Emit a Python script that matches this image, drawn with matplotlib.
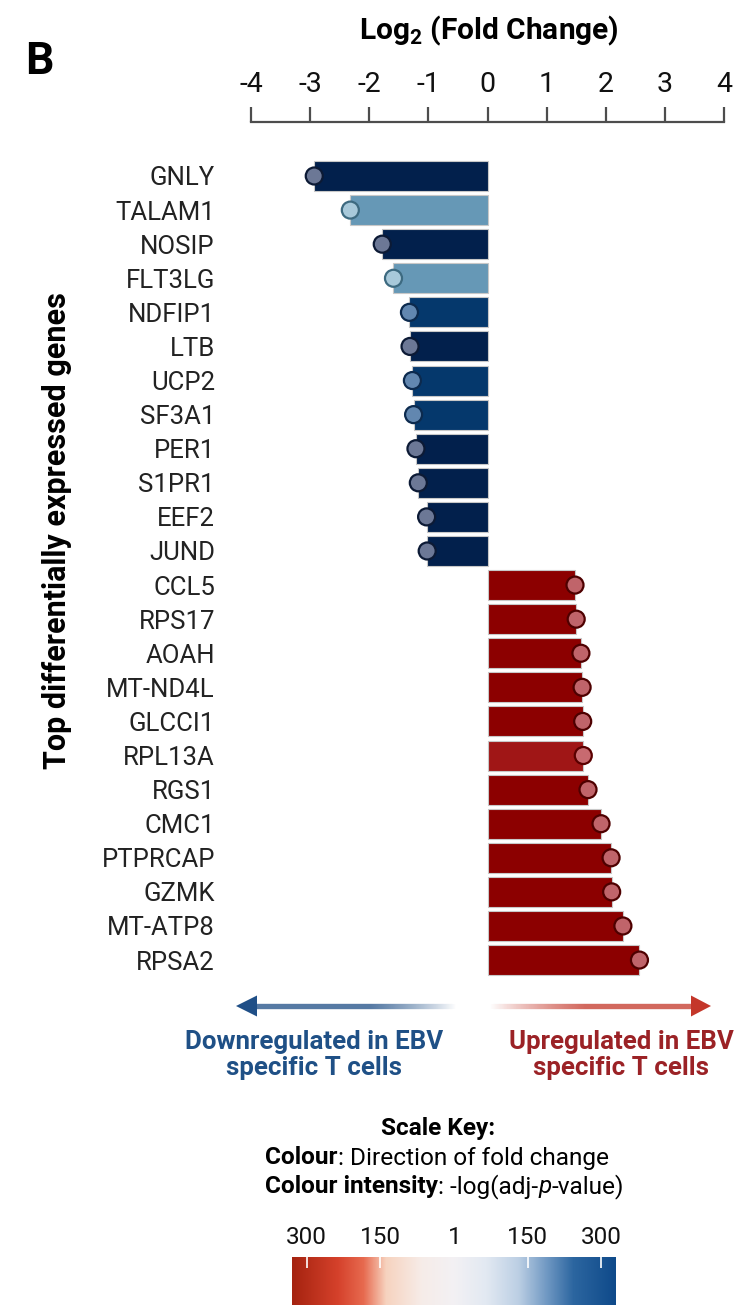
import matplotlib
matplotlib.use('Agg')
import matplotlib.pyplot as plt
import numpy as np
from matplotlib.collections import LineCollection
from matplotlib.colors import LinearSegmentedColormap, to_rgba
from matplotlib.patches import Polygon

plt.rcParams['font.family'] = ['Roboto', 'DejaVu Sans']
plt.rcParams['mathtext.fontset'] = 'custom'
plt.rcParams['mathtext.rm'] = 'Roboto:bold'
plt.rcParams['mathtext.bf'] = 'Roboto:bold'
plt.rcParams['axes.unicode_minus'] = False

# ---------------- data ----------------
genes = ['GNLY', 'TALAM1', 'NOSIP', 'FLT3LG', 'NDFIP1', 'LTB', 'UCP2', 'SF3A1',
         'PER1', 'S1PR1', 'EEF2', 'JUND',
         'CCL5', 'RPS17', 'AOAH', 'MT-ND4L', 'GLCCI1', 'RPL13A', 'RGS1', 'CMC1',
         'PTPRCAP', 'GZMK', 'MT-ATP8', 'RPSA2']
log2fc = [-2.93, -2.32, -1.78, -1.59, -1.32, -1.31, -1.27, -1.25,
          -1.21, -1.17, -1.03, -1.02,
          1.48, 1.50, 1.58, 1.60, 1.61, 1.62, 1.70, 1.92,
          2.09, 2.10, 2.29, 2.57]
# significance intensity group (-log adj p)
sig_level = ['high', 'low', 'high', 'low', 'mid', 'high', 'mid', 'mid',
             'high', 'high', 'high', 'high',
             'high', 'high', 'high', 'high', 'high', 'mid', 'high', 'high',
             'high', 'high', 'high', 'high']
x_ticks = [-4, -3, -2, -1, 0, 1, 2, 3, 4]
cbar_values = [-300, -150, 1, 150, 300]
cbar_labels = ['300', '150', '1', '150', '300']

# ---------------- styles ----------------
bar_col = {('down', 'high'): '#02204c', ('down', 'mid'): '#05386c', ('down', 'low'): '#6698b6',
           ('up', 'high'): '#8c0000', ('up', 'mid'): '#a01616', ('up', 'low'): '#c05050'}
dot_col = {('down', 'high'): '#6c7896', ('down', 'mid'): '#6287b0', ('down', 'low'): '#a8c9da',
           ('up', 'high'): '#c0646a', ('up', 'mid'): '#c86a70', ('up', 'low'): '#d89090'}
dot_edge = {('down', 'high'): '#0c1a35', ('down', 'mid'): '#0c2a4e', ('down', 'low'): '#3d6a80',
            ('up', 'high'): '#4e0000', ('up', 'mid'): '#5a0000', ('up', 'low'): '#6a1010'}

W, H = 743, 1311
fig = plt.figure(figsize=(W / 100, H / 100), dpi=100)

ov = fig.add_axes([0, 0, 1, 1])
ov.set_xlim(0, W)
ov.set_ylim(H, 0)
ov.axis('off')


def fig_box(l, t, r, b):
    return [l / W, 1 - b / H, (r - l) / W, (b - t) / H]


# ---------------- main bar chart ----------------
ax = fig.add_axes(fig_box(251, 122, 724, 980))
ax.patch.set_visible(False)
ypos = np.arange(len(genes))
keys = [('down' if v < 0 else 'up', s) for v, s in zip(log2fc, sig_level)]
ax.barh(ypos, log2fc, height=0.88, color=[bar_col[k] for k in keys],
        edgecolor='#c8c8c8', linewidth=0.8, zorder=2)
ax.scatter(log2fc, ypos, s=150, c=[dot_col[k] for k in keys],
           edgecolors=[dot_edge[k] for k in keys], linewidths=1.6, zorder=3, clip_on=False)
ax.set_xlim(-4, 4)
ax.set_ylim(23.585, -1.584)
ax.xaxis.set_ticks_position('top')
ax.set_xticks(x_ticks)
ax.set_xticklabels([str(t) for t in x_ticks])
ax.tick_params(axis='x', direction='out', length=11, width=1.6, color='#4d4d4d',
               pad=6, labelsize=20.5, labelcolor='#111111')
ax.set_yticks(ypos)
ax.set_yticklabels(genes)
ax.tick_params(axis='y', length=0, pad=26, labelsize=18.5, labelcolor='#222222')
for s in ['left', 'right', 'bottom']:
    ax.spines[s].set_visible(False)
ax.spines['top'].set_linewidth(1.6)
ax.spines['top'].set_color('#4d4d4d')

# ---------------- texts ----------------
ov.text(39, 62, 'B', fontsize=32, fontweight='bold', ha='center', va='center')
ov.text(489, 31, r'Log$_2$ (Fold Change)', fontsize=21.5, fontweight='bold',
        ha='center', va='center')
ov.text(57, 531, 'Top differentially expressed genes', fontsize=22, fontweight='bold',
        rotation=90, ha='center', va='center')

# arrows
blue = '#1f4f87'
red = '#c4372a'


def grad_line(x0, x1, y, color, a0, a1, full_from, full_to):
    xs = np.linspace(x0, x1, 300)
    segs = [[(xs[i], y), (xs[i + 1], y)] for i in range(len(xs) - 1)]
    cols = []
    for i in range(len(xs) - 1):
        xm = 0.5 * (xs[i] + xs[i + 1])
        t = np.clip((xm - full_from) / (full_to - full_from), 0, 1)
        a = a0 + (a1 - a0) * t
        cols.append(to_rgba(color, a))
    ov.add_collection(LineCollection(segs, colors=cols, linewidths=3.8, capstyle='butt'))


grad_line(254, 455, 1006, blue, 1.0, 0.0, 370, 455)
ov.add_patch(Polygon([(236, 1006), (257, 995.5), (257, 1016.5)], closed=True, color=blue, lw=0))
grad_line(490, 694, 1006, red, 0.0, 1.0, 490, 585)
ov.add_patch(Polygon([(711, 1006), (691, 995.5), (691, 1016.5)], closed=True, color=red, lw=0))

ov.text(314, 1055, 'Downregulated in EBV\nspecific T cells', fontsize=18.6, fontweight='bold',
        color='#1f5086', ha='center', va='center', multialignment='center', linespacing=1.1)
ov.text(621, 1055, 'Upregulated in EBV\nspecific T cells', fontsize=18.6, fontweight='bold',
        color='#9b2226', ha='center', va='center', multialignment='center', linespacing=1.1)

# scale key
ov.text(438, 1128, 'Scale Key:', fontsize=17.6, fontweight='bold', ha='center', va='center')
renderer = fig.canvas.get_renderer()


def rich_line(x, y, pieces):
    for txt, kw in pieces:
        t = ov.text(x, y, txt, fontsize=17.6, ha='left', va='center', **kw)
        bb = t.get_window_extent(renderer)
        x += bb.width


rich_line(265, 1158, [('Colour', {'fontweight': 'bold'}),
                      (': Direction of fold change', {})])
rich_line(265, 1187, [('Colour intensity', {'fontweight': 'bold'}),
                      (': -log(adj-', {}),
                      ('p', {'fontstyle': 'italic'}),
                      ('-value)', {})])

# colour bar
cax = fig.add_axes(fig_box(292, 1257, 616, 1305))
cmap = LinearSegmentedColormap.from_list('fc', [
    (0.00, '#a52310'), (0.14, '#d5412b'), (0.22, '#e76a4f'), (0.29, '#f7d3bf'),
    (0.40, '#f6ece8'), (0.50, '#f3f1f4'), (0.60, '#e2e9f2'), (0.70, '#bccfe4'),
    (0.79, '#6e97c2'), (0.87, '#2c66a0'), (1.00, '#0f4a8a')])
grad = np.linspace(0, 1, 512)[None, :]
cax.imshow(grad, aspect='auto', cmap=cmap, extent=[-330, 330, 0, 1])
cax.set_xlim(-330, 330)
cax.set_ylim(0, 1)
cax.set_yticks([])
cax.xaxis.set_ticks_position('top')
cax.set_xticks(cbar_values)
cax.set_xticklabels(cbar_labels)
cax.tick_params(axis='x', direction='in', length=8, width=1.2, color='white',
                pad=6, labelsize=17.5, labelcolor='#111111')
for tk in cax.xaxis.get_major_ticks():
    if tk.get_loc() == 1:
        tk.tick1line.set_visible(False)
        tk.tick2line.set_visible(False)
for s in cax.spines.values():
    s.set_visible(False)

fig.savefig('out.png', dpi=100, facecolor='white')
